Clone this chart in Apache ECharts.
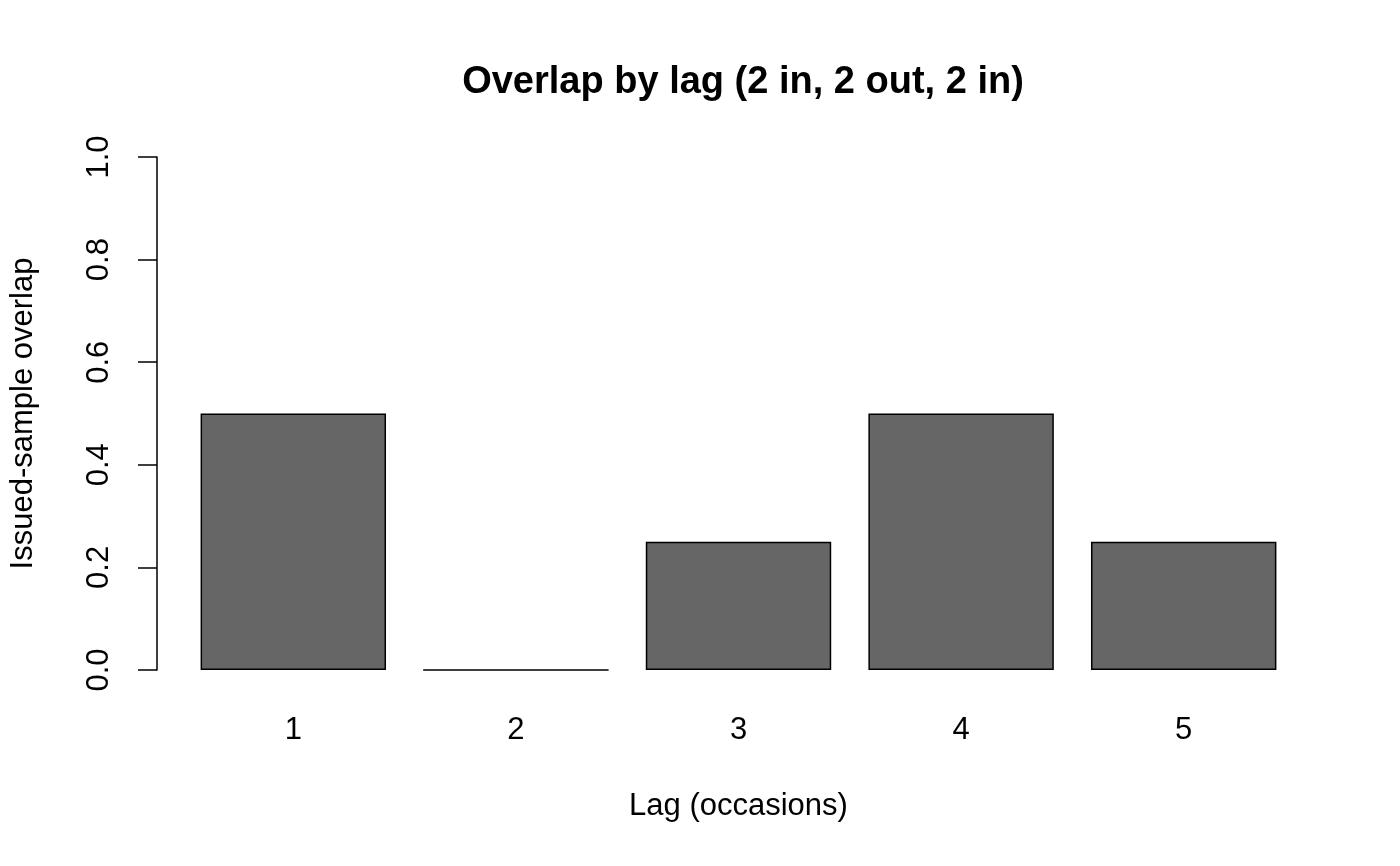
<!DOCTYPE html>
<html>
<head>
<meta charset="utf-8">
<script src="https://cdn.jsdelivr.net/npm/echarts@6/dist/echarts.min.js"></script>
<style>
  html, body { margin: 0; padding: 0; background: #fff; }
  #main { width: 1400px; height: 866px; }
</style>
</head>
<body>
<div id="main"></div>
<script>
// data
var lags = ['1', '2', '3', '4', '5'];
var overlap = [0.5, 0, 0.25, 0.5, 0.25];
var yTicks = [0, 0.2, 0.4, 0.6, 0.8, 1.0];

var font = '"Liberation Sans", Arial, Helvetica, sans-serif';
var myChart = echarts.init(document.getElementById('main'));

var option = {
    backgroundColor: '#ffffff',
    animation: false,
    title: {
        text: 'Overlap by lag (2 in, 2 out, 2 in)',
        left: 738,
        top: 59,
        textAlign: 'center',
        textStyle: { fontFamily: font, fontSize: 38, fontWeight: 'bold', color: '#000' }
    },
    grid: { left: 182, right: 105, top: 157, bottom: 196 },
    xAxis: {
        type: 'category',
        data: lags,
        name: 'Lag (occasions)',
        nameLocation: 'middle',
        nameGap: 121,
        nameTextStyle: { fontFamily: font, fontSize: 31, color: '#000' },
        axisLine: { show: false },
        axisTick: { show: false },
        axisLabel: { margin: 45, fontFamily: font, fontSize: 31, color: '#000' },
        splitLine: { show: false }
    },
    yAxis: {
        type: 'value',
        min: yTicks[0],
        max: yTicks[yTicks.length - 1],
        interval: 0.2,
        offset: 25,
        name: 'Issued-sample overlap',
        nameLocation: 'middle',
        nameRotate: 90,
        nameGap: 118,
        nameTextStyle: { fontFamily: font, fontSize: 31, color: '#000' },
        axisLine: { show: true, lineStyle: { color: '#000', width: 1.5 } },
        axisTick: { show: true, length: 19, lineStyle: { color: '#000', width: 1.5 } },
        axisLabel: {
            rotate: 90,
            margin: 42,
            fontFamily: font,
            fontSize: 31,
            color: '#000',
            formatter: function (v) { return v.toFixed(1); }
        },
        splitLine: { show: false }
    },
    series: [{
        type: 'bar',
        data: overlap,
        barWidth: '83.3%',
        itemStyle: { color: '#666666', borderColor: '#000', borderWidth: 1.5 }
    }]
};

myChart.setOption(option);
</script>
</body>
</html>
